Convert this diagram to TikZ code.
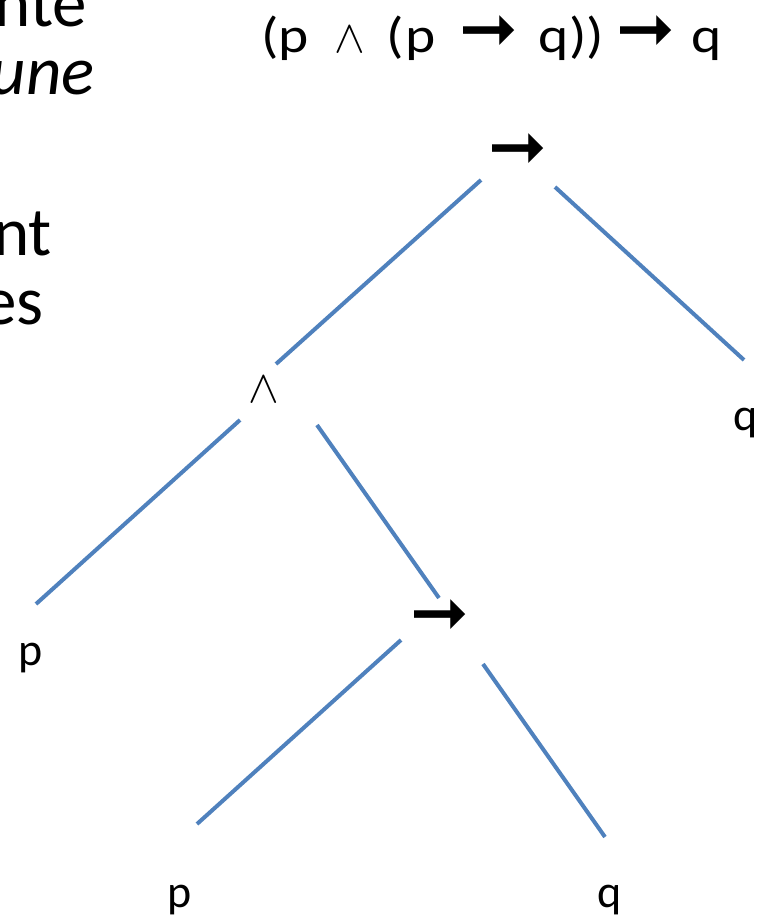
\documentclass[tikz,border=0pt]{standalone}
\usepackage{graphicx}
\usepackage{fontspec}
\setmainfont{Carlito}
\newfontfamily\symfont{DejaVu Sans}
\newfontfamily\wideformula[FakeStretch=1.15]{Carlito}
\definecolor{edgeblue}{HTML}{4F81BD}
\newcommand{\bigwedgesym}{{\fontsize{10}{12}\selectfont\scalebox{4.6}{$\wedge$}}}
\tikzset{
  lbl/.style={inner sep=0pt, anchor=base, font=\fontsize{46}{46}\selectfont},
  oplbl/.style={inner sep=0pt, anchor=center, font=\symfont\fontsize{70}{70}\selectfont},
  wedgelbl/.style={inner sep=0pt, anchor=center},
  side/.style={inner sep=0pt, anchor=base east, font=\fontsize{69}{69}\selectfont},
  formula/.style={inner sep=0pt, anchor=base west, font=\wideformula\fontsize{50}{50}\selectfont},
  edge/.style={line width=4pt, color=edgeblue},
}
\begin{document}
\begin{tikzpicture}[x=1pt,y=-1pt]
\useasboundingbox (0,0) rectangle (769,920);
\clip (0,0) rectangle (769,920);
% side text (cut off)
\node[side] (s1) at (87,27) {nte};
\node[side] (s2) at (95,95) {\itshape une};
\node[side] (s3) at (52,255) {nt};
\node[side] (s4) at (44,324) {es};
% formula
\node[formula] (f) at (261,53)
  {(p\hspace{26pt}\bigwedgesym\hspace{21pt}(\hspace{2pt}p\hspace{23pt}{\symfont\fontsize{70}{70}\selectfont ➞}\hspace{21pt}q))\hspace{13pt}{\symfont\fontsize{70}{70}\selectfont ➞}\hspace{16pt}q};
% tree labels
\node[oplbl] (r) at (517.5,152) {➞};
\node[wedgelbl] (a) at (264,390) {\bigwedgesym};
\node[lbl] (q1) at (746,430) {q};
\node[lbl] (p1) at (30.5,665) {p};
\node[oplbl] (i) at (440,618) {➞};
\node[lbl] (p2) at (180,907) {p};
\node[lbl] (q2) at (610,907) {q};
% edge endpoints
\coordinate (e1a) at (481,180); \coordinate (e1b) at (276,364);
\coordinate (e2a) at (555,187); \coordinate (e2b) at (744,360);
\coordinate (e3a) at (240,420); \coordinate (e3b) at (36,604);
\coordinate (e4a) at (317,425); \coordinate (e4b) at (439,598);
\coordinate (e5a) at (401,640); \coordinate (e5b) at (197,824);
\coordinate (e6a) at (483,664); \coordinate (e6b) at (605,837);
\draw[edge] (e1a) -- (e1b);
\draw[edge] (e2a) -- (e2b);
\draw[edge] (e3a) -- (e3b);
\draw[edge] (e4a) -- (e4b);
\draw[edge] (e5a) -- (e5b);
\draw[edge] (e6a) -- (e6b);
\end{tikzpicture}
\end{document}
